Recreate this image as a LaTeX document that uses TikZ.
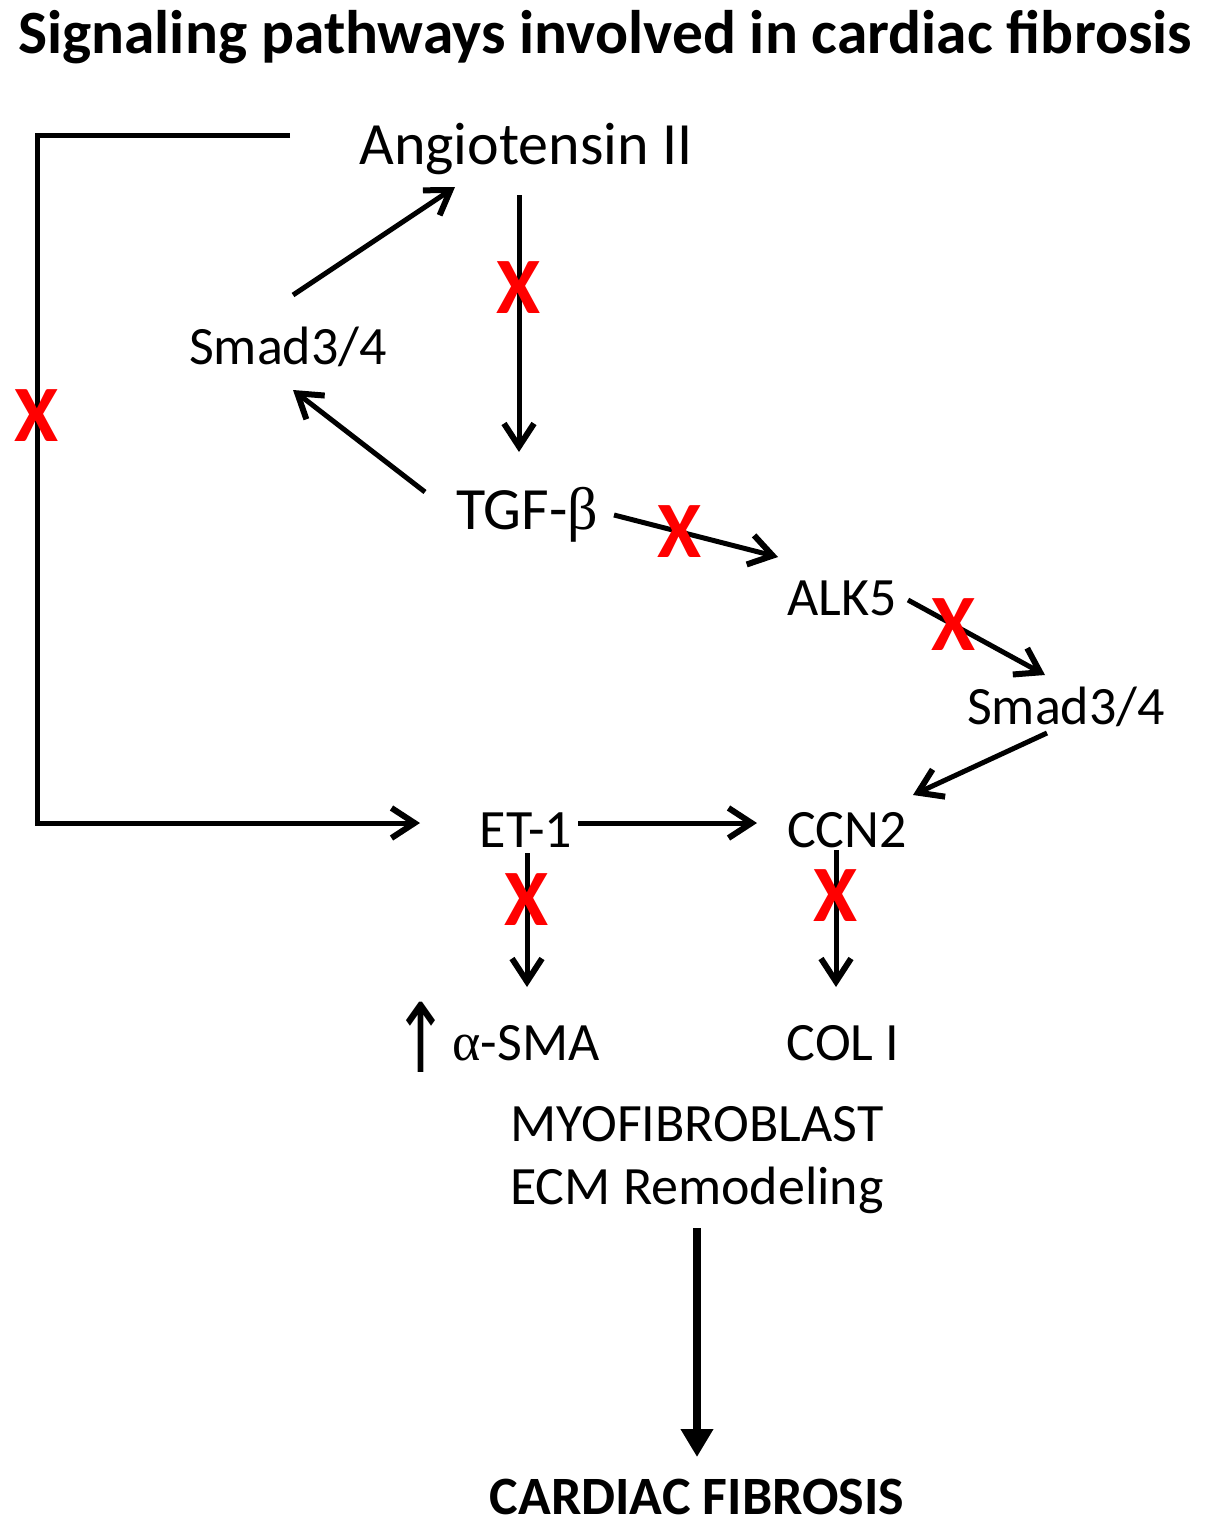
\documentclass[tikz,border=0pt]{standalone}
\usepackage{fontspec}
\setmainfont{Carlito}
\newfontfamily\grk{Liberation Serif}
\newfontfamily\arrfont{DejaVu Sans}
\usetikzlibrary{arrows.meta}
\begin{document}
\begin{tikzpicture}[x=1pt,y=-1pt,
  lbl/.style={inner sep=0pt, anchor=base, text depth=0pt, text height=35pt, font=\fontsize{54}{60}\selectfont},
  big/.style={lbl, text height=39pt, font=\fontsize{60}{66}\selectfont},
  boldlbl/.style={lbl, font=\fontsize{54}{60}\selectfont\bfseries},
  ttl/.style={inner sep=0pt, anchor=base, font=\fontsize{61.5}{66}\selectfont\bfseries},
  arr/.style={line width=5pt, -{Straight Barb[length=23pt,width=30pt,line width=6pt]}},
  thickarr/.style={line width=7.5pt, -{Triangle[length=28pt,width=31pt]}},
  xmark/.style={text=red, inner sep=0pt, anchor=center, text height=52pt, text depth=0pt, font=\fontsize{80}{80}\selectfont\bfseries},
  uparr/.style={inner sep=0pt, anchor=center, font=\arrfont\fontsize{80}{80}\selectfont}
]
\useasboundingbox (0,0) rectangle (1205,1528);

\node[ttl] (title) at (605,54) {Signaling pathways involved in cardiac fibrosis};

\node[big] (ang) at (526,164) {Angiotensin II};
\node[lbl] (smadL) at (288,364) {Smad3/4};
\node[big] (tgf) at (527,529) {TGF-{\grk β}};
\node[lbl] (alk) at (842,615) {ALK5};
\node[lbl] (smadR) at (1066,724) {Smad3/4};
\node[lbl] (et) at (526,847) {ET-1};
\node[lbl] (ccn) at (847,847) {CCN2};
\node[uparr] (up) at (421,1037) {\scalebox{0.85}[1.2]{↑}};
\node[lbl] (sma) at (526,1060) {{\grk α}-SMA};
\node[lbl] (col) at (843,1060) {COL I};
\node[lbl] (myo) at (697,1141) {MYOFIBROBLAST};
\node[lbl] (ecm) at (697,1204) {ECM Remodeling};
\node[boldlbl] (cf) at (697,1514) {CARDIAC FIBROSIS};

\coordinate (tl) at (37,135);
\coordinate (bl) at (37,823);

% feedback bracket
\draw[arr] ([shift={(-236,-29)}]ang.base) -- (tl) -- node[xmark,pos=0.407]{X} (bl) -- ([shift={(-106,-24)}]et.base);

% Smad3/4 -> Angiotensin II
\draw[arr] ([shift={(5,-69)}]smadL.base) -- ([shift={(-71,23)}]ang.base);
% Angiotensin II -> TGF-beta
\draw[arr] ([shift={(-7,31)}]ang.base) -- node[xmark,pos=0.36]{X} ([shift={(-8,-77)}]tgf.base);
% TGF-beta -> Smad3/4
\draw[arr] ([shift={(-102,-37)}]tgf.base) -- ([shift={(5,26)}]smadL.base);
% TGF-beta -> ALK5
\draw[arr] ([shift={(87,-14)}]tgf.base) -- node[xmark,pos=0.40]{X} ([shift={(-64,-58)}]alk.base);
% ALK5 -> Smad3/4
\draw[arr] ([shift={(66,-15)}]alk.base) -- node[xmark,pos=0.33]{X} ([shift={(-21,-49)}]smadR.base);
% Smad3/4 -> CCN2
\draw[arr] ([shift={(-19,9)}]smadR.base) -- ([shift={(66,-52)}]ccn.base);
% ET-1 -> CCN2
\draw[arr] ([shift={(52,-24)}]et.base) -- ([shift={(-90,-24)}]ccn.base);
% ET-1 -> alpha-SMA
\draw[arr] ([shift={(1,6)}]et.base) -- node[xmark,pos=0.35]{X} ([shift={(1,-73)}]sma.base);
% CCN2 -> COL I
\draw[arr] ([shift={(-11,3)}]ccn.base) -- node[xmark,pos=0.33]{X} ([shift={(-7,-73)}]col.base);
% ECM -> Cardiac fibrosis
\draw[thickarr] ([shift={(0,24)}]ecm.base) -- ([shift={(0,-57)}]cf.base);
\end{tikzpicture}
\end{document}
